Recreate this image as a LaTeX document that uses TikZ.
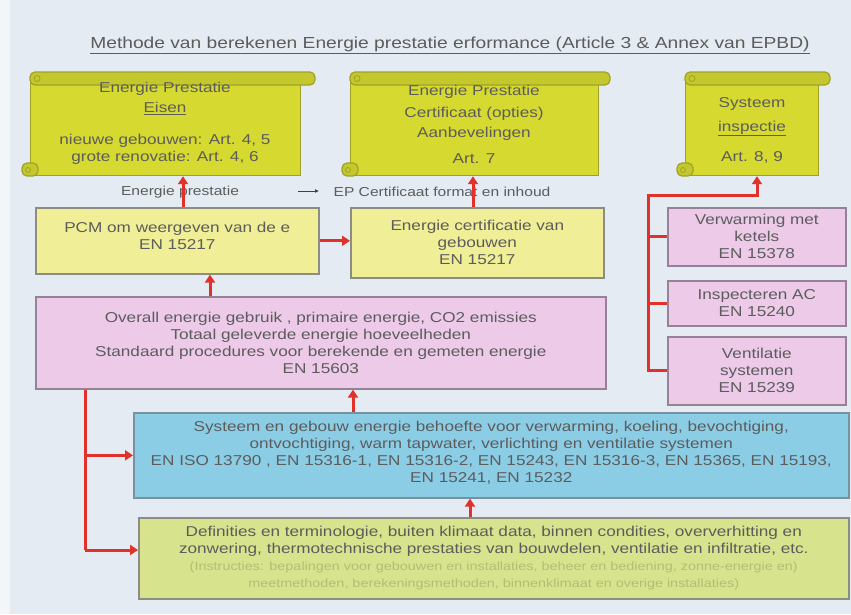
\documentclass[tikz,border=0pt]{standalone}
\usepackage{fontspec}
\setmainfont[FakeStretch=1.2]{Liberation Sans}
\usetikzlibrary{arrows.meta,calc}
\definecolor{bg}{RGB}{228,235,242}
\definecolor{scrollfill}{RGB}{214,217,48}
\definecolor{scrolldark}{RGB}{160,162,40}
\definecolor{paley}{RGB}{240,238,150}
\definecolor{pinkf}{RGB}{236,202,232}
\definecolor{pinkedge}{RGB}{150,130,150}
\definecolor{bluef}{RGB}{140,205,230}
\definecolor{blueedge}{RGB}{120,145,160}
\definecolor{greenf}{RGB}{216,227,142}
\definecolor{lighttxt}{RGB}{180,190,115}
\definecolor{txt}{RGB}{92,92,92}
\definecolor{redl}{RGB}{224,50,42}
\definecolor{edge}{RGB}{140,140,130}
\begin{document}
\begin{tikzpicture}[x=1pt,y=-1pt,
  font=\fontsize{14.3}{17}\selectfont,
  every node/.style={text=txt},
  box/.style={draw=edge, line width=1.6pt, align=center, anchor=north west, inner sep=2pt},
  sbody/.style={box, draw=scrolldark, fill=scrollfill, line width=1.2pt},
  roll/.style={fill=scrollfill!92!black, draw=scrolldark, line width=1.2pt, rounded corners=5pt},
  curl/.style={draw=scrolldark, line width=0.8pt},
  link/.style={draw=redl, line width=3pt, -{Triangle[length=8pt,width=10pt]}},
  wire/.style={draw=redl, line width=3pt},
  lab/.style={font=\fontsize{13}{15}\selectfont},
  faint/.style={}
]
\fill[bg] (0,0) rectangle (851,614);
\fill[white!55!bg] (0,0) rectangle (10,614);
\useasboundingbox (0,0) rectangle (851,614);

% title
\node[font=\fontsize{16}{18}\selectfont] (title) at (450,45)
  {\underline{Methode van berekenen Energie prestatie erformance (Article 3 \& Annex van EPBD)}};

% scroll 1
\node[sbody, minimum width=270pt, minimum height=95pt] (S1) at (30,80) {};
\draw[roll] (30,72) rectangle (315,85);
\draw[curl] (37,78.5) circle (3pt);
\draw[roll] (22,163) rectangle (38,176);
\draw[curl] (28,170) circle (2.5pt);
\node[align=center] (S1t) at (165,123)
  {Energie Prestatie\\[3pt] \underline{Eisen}\\[15pt] nieuwe gebouwen: Art. 4, 5\\ grote renovatie: Art. 4, 6};

% scroll 2
\node[sbody, minimum width=248pt, minimum height=95pt] (S2) at (350,80) {};
\draw[roll] (350,72) rectangle (610,85);
\draw[curl] (357,78.5) circle (3pt);
\draw[roll] (342,163) rectangle (358,176);
\draw[curl] (348,170) circle (2.5pt);
\node[align=center] (S2t) at (474,124)
  {Energie Prestatie\\[5pt] Certificaat (opties)\\[3pt] Aanbevelingen\\[9pt] Art. 7};

% scroll 3
\node[sbody, minimum width=133pt, minimum height=95pt] (S3) at (685,80) {};
\draw[roll] (685,72) rectangle (830,85);
\draw[curl] (692,78.5) circle (3pt);
\draw[roll] (677,163) rectangle (693,176);
\draw[curl] (683,170) circle (2.5pt);
\node[align=center] (S3t) at (752,130)
  {Systeem\\[7pt] \underline{inspectie}\\[13pt] Art. 8, 9};

% middle boxes
\node[box, fill=paley, minimum width=283pt, minimum height=66pt] (A) at (35,207)
  {PCM om weergeven van de e\\ EN 15217\\[-8pt]\mbox{}};
\node[box, fill=paley, minimum width=253pt, minimum height=70pt] (B) at (350,207)
  {Energie certificatie van\\ gebouwen\\ EN 15217};
\node[box, fill=pinkf, draw=pinkedge, minimum width=570pt, minimum height=92pt] (C) at (35,296)
  {Overall energie gebruik , primaire energie, CO2 emissies\\
   Totaal geleverde energie hoeveelheden\\
   Standaard procedures voor berekende en gemeten energie\\
   EN 15603};

% right boxes
\node[box, fill=pinkf, draw=pinkedge, minimum width=178pt, minimum height=58pt] (D1) at (667,207)
  {Verwarming met\\ ketels\\ EN 15378};
\node[box, fill=pinkf, draw=pinkedge, minimum width=178pt, minimum height=45pt] (D2) at (667,280)
  {Inspecteren AC\\ EN 15240};
\node[box, fill=pinkf, draw=pinkedge, minimum width=178pt, minimum height=68pt] (D3) at (667,336)
  {Ventilatie\\ systemen\\ EN 15239};

% lower boxes
\node[box, fill=bluef, draw=blueedge, minimum width=715pt, minimum height=85pt] (E) at (133,412)
  {\\[-11pt]Systeem en gebouw energie behoefte voor verwarming, koeling, bevochtiging,\\
   ontvochtiging, warm tapwater, verlichting en ventilatie systemen\\
   EN ISO 13790 , EN 15316-1, EN 15316-2, EN 15243, EN 15316-3, EN 15365, EN 15193,\\
   EN 15241, EN 15232};
\node[box, fill=greenf, draw=edge, minimum width=710pt, minimum height=81pt] (F) at (138,517)
  {Definities en terminologie, buiten klimaat data, binnen condities, oververhitting en\\
   zonwering, thermotechnische prestaties van bouwdelen, ventilatie en infiltratie, etc.\\
   {\color{lighttxt}\fontsize{12}{16}\selectfont (Instructies: bepalingen voor gebouwen en installaties, beheer en bediening, zonne-energie en)}\\
   {\color{lighttxt}\fontsize{12}{16}\selectfont meetmethoden, berekeningsmethoden, binnenklimaat en overige installaties)}};

% labels
\node[lab] (l1) at (180,192) {Energie prestatie};
\node[lab] (l2) at (442,192) {EP Certificaat format en inhoud};
\coordinate (sa) at (298,191);
\coordinate (sb) at (319,191);
\draw[line width=0.8pt, black!75, -{Latex[length=4pt,width=4pt]}] (sa) -- (sb);

% vertical arrows
\draw[link] (183,0 |- A.north) -- (183,0 |- S1.south);
\draw[link] (473,0 |- B.north) -- (473,0 |- S2.south);
\draw[link] (A.east) -- (A.east -| B.west);
\draw[link] (210,0 |- C.north) -- (210,0 |- A.south);
\draw[link] (353,0 |- E.north) -- (353,0 |- C.south);
\draw[link] (470,0 |- F.north) -- (470,0 |- E.south);

% right connector
\coordinate (rj) at (648,195);
\draw[wire] (D3.west) -- (rj |- D3.west) -- (rj) -- (757,195);
\draw[link] (757,196.5) -- (757,0 |- S3.south);
\draw[wire] (rj |- D1.west) -- (D1.west);
\draw[wire] (rj |- D2.west) -- (D2.west);

% left connector
\coordinate (lj) at (85,0 |- C.south);
\coordinate (lf) at (85,550);
\draw[wire] (lj) -- (lf);
\draw[link] (lf) -- (lf -| F.west);
\draw[link] (85,0 |- E.west) -- (E.west);
\end{tikzpicture}
\end{document}
